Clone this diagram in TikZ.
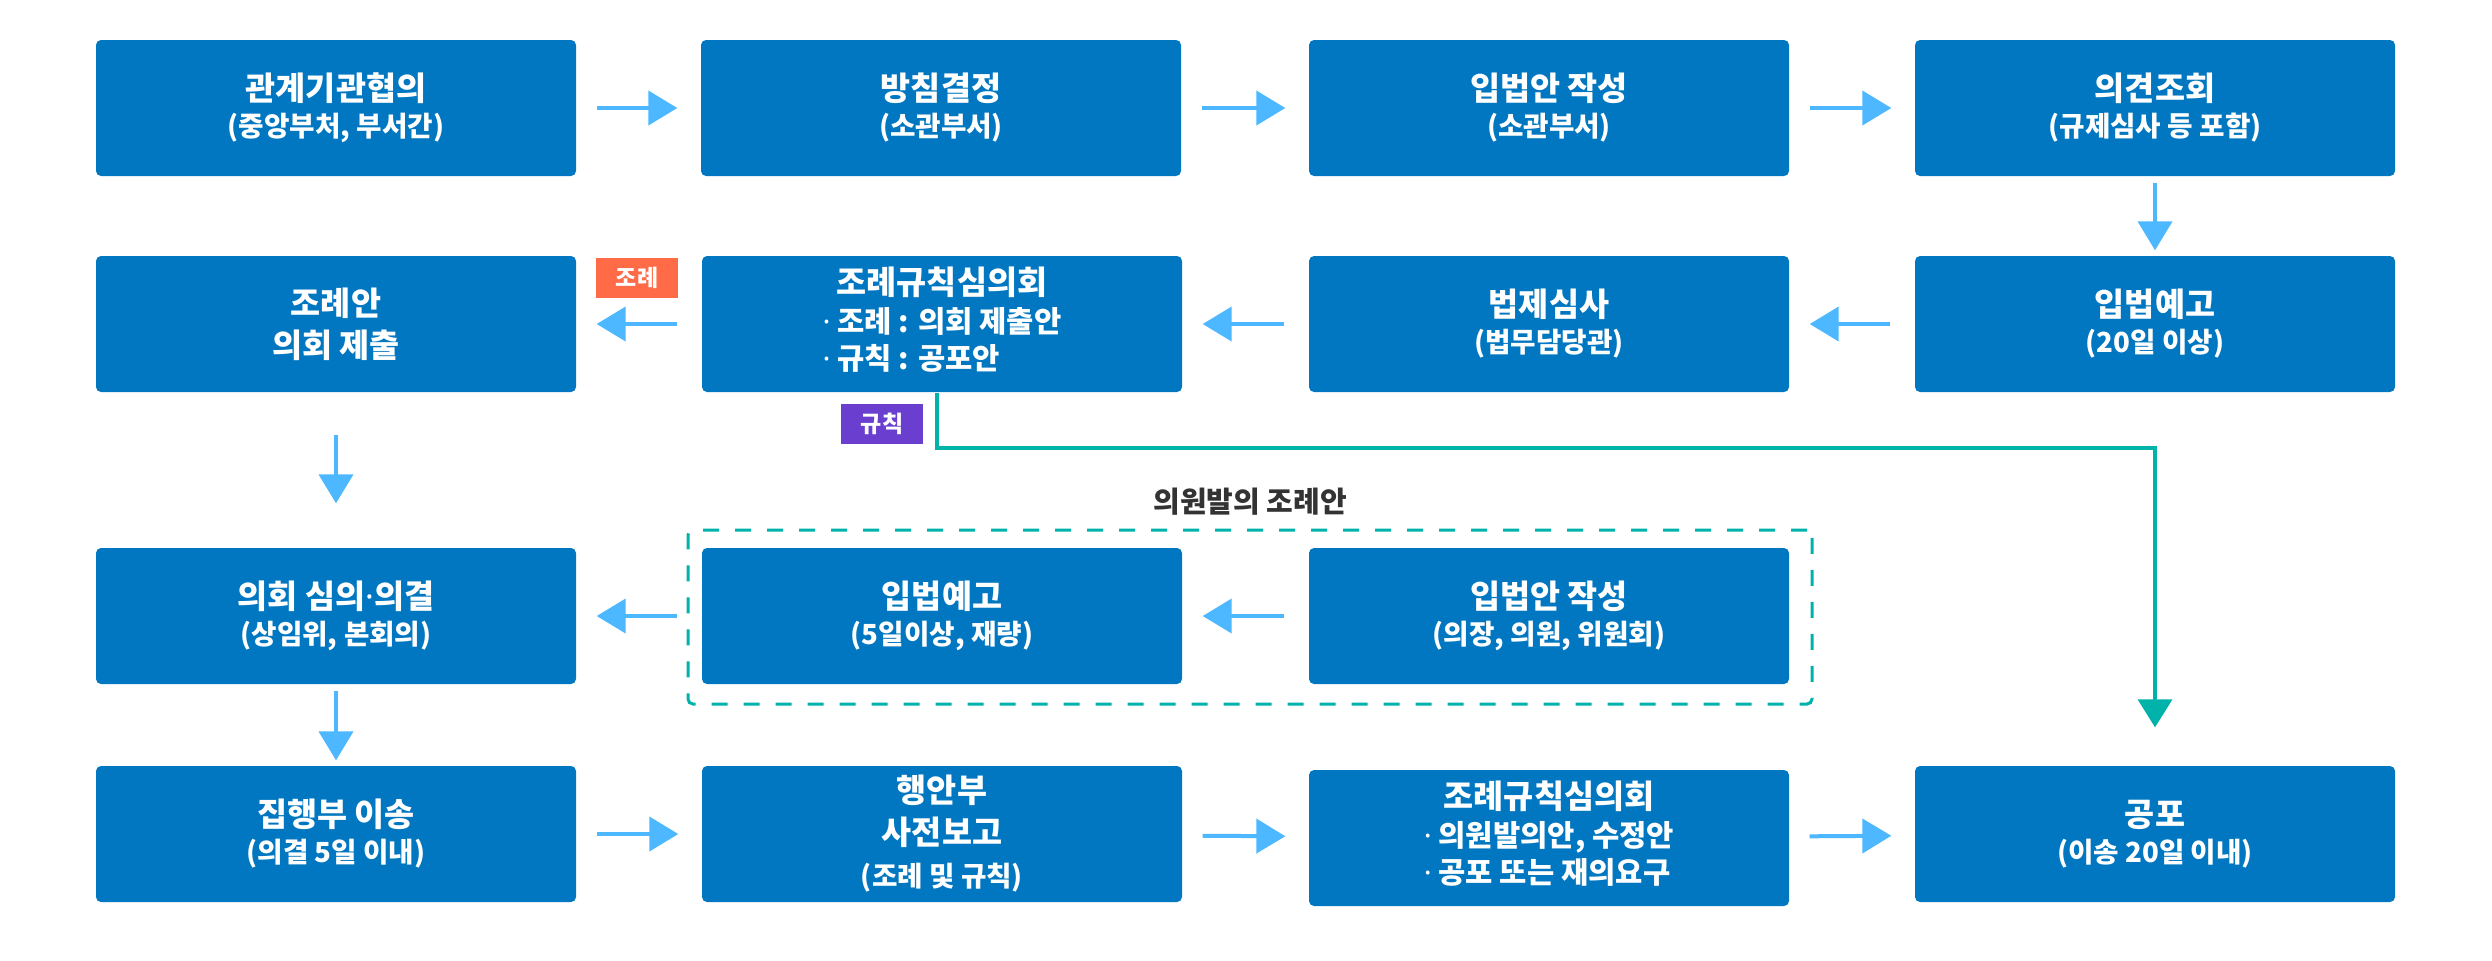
\documentclass[tikz,border=0pt]{standalone}
\usepackage{fontspec}
\setmainfont{Noto Sans CJK KR}
\newfontfamily\latinf{Noto Sans}
\usetikzlibrary{arrows.meta}
\definecolor{boxblue}{HTML}{0077C0}
\definecolor{arrblue}{HTML}{4DB8FF}
\definecolor{tealc}{HTML}{00B3AA}
\definecolor{tagorange}{HTML}{FF6B47}
\definecolor{tagpurple}{HTML}{6A3FCF}
\definecolor{labelgray}{HTML}{333333}
\newcommand\smline[1]{{\fontsize{8.3pt}{9pt}\selectfont #1}}
\newcommand\mdot{{\latinf\bfseries ·}}
\begin{document}
\begin{tikzpicture}[x=0.3pt,y=-0.3pt,
  box/.style={rounded corners=1.5pt, fill=boxblue, text=white, minimum width=144pt, minimum height=40.8pt, inner sep=0pt, align=center, font=\bfseries\fontsize{9.8pt}{10.8pt}\selectfont},
  bigpitch/.style={font=\bfseries\fontsize{9.8pt}{12.6pt}\selectfont},
  listpitch/.style={font=\bfseries\fontsize{9.8pt}{11.25pt}\selectfont},
  flow/.style={draw=arrblue, line width=1.2pt, -{Triangle[length=8.7pt,width=10.2pt]}},
  rgt/.style={flow, shorten <=6pt, shorten >=6.9pt},
  lft/.style={flow, shorten <=7.2pt, shorten >=6pt},
  tealflow/.style={draw=tealc, line width=1.1pt, -{Triangle[length=8.4pt,width=10.2pt]}},
  tag/.style={text=white, font=\bfseries\fontsize{6.9pt}{7pt}\selectfont, minimum width=24.6pt, minimum height=12pt, inner sep=0pt},
  group/.style={draw=tealc, line width=0.9pt, dash pattern=on 4.8pt off 4.8pt, rounded corners=1.5pt}
]
\useasboundingbox (0,0) rectangle (2492,960);

% row 1
\node[box] (a1) at (336,108) {관계기관협의\\\smline{(중앙부처, 부서간)}};
\node[box] (a2) at (941,108) {방침결정\\\smline{(소관부서)}};
\node[box] (a3) at (1549,108) {입법안 작성\\\smline{(소관부서)}};
\node[box] (a4) at (2155,108) {의견조회\\\smline{(규제심사 등 포함)}};

% row 2
\node[box] (b4) at (2155,324) {입법예고\\\smline{(20일 이상)}};
\node[box] (b3) at (1549,324) {법제심사\\\smline{(법무담당관)}};
\node[box,listpitch] (b2) at (942,324) {조례규칙심의회\\{\fontsize{8.9pt}{11.25pt}\selectfont\begin{tabular}[t]{@{}l@{}}\mdot{} 조례 : 의회 제출안\\\mdot{} 규칙 : 공포안\end{tabular}}};
\node[box,bigpitch] (b1) at (336,324) {조례안\\의회 제출};

% row 3
\node[box] (c1) at (336,616) {의회 심의\mdot{}의결\\\smline{(상임위, 본회의)}};
\node[box] (c2) at (942,616) {입법예고\\\smline{(5일이상, 재량)}};
\node[box] (c3) at (1549,616) {입법안 작성\\\smline{(의장, 의원, 위원회)}};

% row 4
\node[box] (d1) at (336,834) {집행부 이송\\\smline{(의결 5일 이내)}};
\node[box,bigpitch] (d2) at (942,834) {행안부\\사전보고\\\smline{(조례 및 규칙)}};
\node[box,listpitch] (d3) at (1549,838) {조례규칙심의회\\{\fontsize{8.9pt}{11.25pt}\selectfont\begin{tabular}[t]{@{}l@{}}\mdot{} 의원발의안, 수정안\\\mdot{} 공포 또는 재의요구\end{tabular}}};
\node[box] (d4) at (2155,834) {공포\\\smline{(이송 20일 이내)}};

% group
\node[group, minimum width=337.2pt, minimum height=52.2pt, inner sep=0pt] (grp) at (1250,617) {};
\node[text=labelgray, font=\bfseries\fontsize{8.7pt}{9pt}\selectfont] (grplabel) at (1250,502) {의원발의 조례안};

% tags
\node[tag, fill=tagorange] (tagA) at (637,278) {조례};
\node[tag, fill=tagpurple] (tagB) at (882,424) {규칙};

% arrows
\draw[rgt] (a1) -- (a2);
\draw[rgt] (a2) -- (a3);
\draw[rgt] (a3) -- (a4);
\draw[flow, shorten <=1.8pt, shorten >=1.5pt] (a4) -- (b4);
\draw[lft] (b4) -- (b3);
\draw[lft] (b3) -- (b2);
\draw[lft] (b2) -- (b1);
\draw[flow, shorten <=12.6pt, shorten >=13.2pt] (b1) -- (c1);
\draw[lft] (c3) -- (c2);
\draw[lft] (c2) -- (c1);
\draw[flow, shorten <=1.8pt, shorten >=1.5pt] (c1) -- (d1);
\draw[rgt] (d1) -- (d2);
\draw[rgt] (d2) -- (d3);
\draw[rgt] (d3) -- (d4);

\draw[tealflow] ([xshift=-1.5pt]b2.south) -- ++(0,55) -| ([yshift=11.4pt]d4.north);
\end{tikzpicture}
\end{document}
